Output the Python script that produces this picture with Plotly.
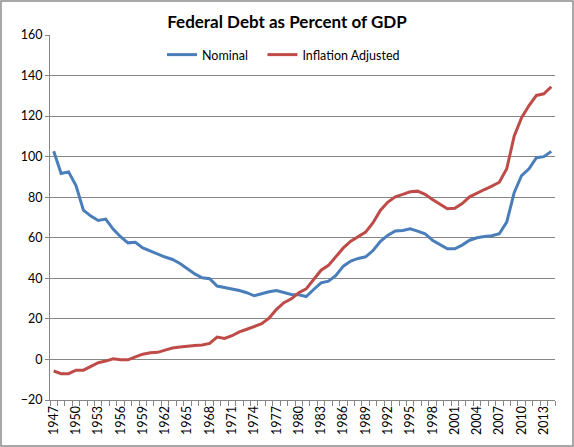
from plotly import graph_objects as go

# years on the category axis
years = list(range(1947, 2015))

# Federal debt as % of GDP
nominal = [102.7, 91.7, 92.5, 85.8, 73.6, 70.7, 68.5, 69.2, 64.3, 60.5,
           57.5, 57.8, 55.0, 53.4, 52.1, 50.5, 49.3, 47.3, 44.7, 42.2,
           40.3, 39.8, 36.2, 35.5, 34.8, 34.0, 32.9, 31.4, 32.4, 33.4,
           34.0, 33.0, 32.0, 31.9, 31.0, 34.5, 37.8, 38.6, 41.4, 46.0,
           48.5, 49.8, 50.6, 53.7, 58.3, 61.3, 63.4, 63.6, 64.4, 63.3,
           62.0, 58.8, 56.7, 54.6, 54.6, 56.4, 58.8, 60.0, 60.6, 61.0,
           62.0, 67.7, 82.2, 90.7, 94.0, 99.5, 100.0, 102.6]

inflation_adj = [-5.7, -7.0, -7.0, -5.3, -5.3, -3.6, -1.6, -0.8, 0.3, -0.2,
                 -0.2, 1.3, 2.6, 3.3, 3.5, 4.6, 5.6, 6.1, 6.6, 6.9,
                 7.1, 7.9, 11.0, 10.4, 11.7, 13.6, 14.9, 16.4, 17.6, 20.4,
                 24.7, 28.0, 29.9, 32.9, 34.8, 39.4, 44.0, 46.4, 50.6, 55.0,
                 58.3, 60.5, 62.8, 67.4, 73.6, 77.6, 80.2, 81.4, 82.7, 83.0,
                 81.4, 78.9, 76.8, 74.3, 74.6, 76.9, 80.2, 82.2, 83.8, 85.5,
                 87.4, 94.0, 110.1, 119.2, 125.2, 130.2, 131.0, 134.5]

tick_years = list(range(1947, 2015, 3))

W, H = 574, 447
L, R, T, B = 50, 19, 35, 47
FONT = "Lato"
PAD = "\u00a0" * 3  # a little extra room after the first legend entry

fig = go.Figure()
fig.add_trace(go.Scatter(x=years, y=nominal, mode="lines", name="Nominal" + PAD,
                         line=dict(color="#4A7EBB", width=3)))
fig.add_trace(go.Scatter(x=years, y=inflation_adj, mode="lines", name="Inflation Adjusted",
                         line=dict(color="#BE4B48", width=3)))

pw = W - L - R
ph = H - T - B


def px_x(v):
    return (v - L) / pw


def px_y(v):
    return (H - B - v) / ph


fig.update_layout(
    width=W, height=H,
    margin=dict(l=L, r=R, t=T, b=B, autoexpand=False),
    paper_bgcolor="white", plot_bgcolor="white",
    font=dict(family=FONT, size=12, color="black"),
    title=dict(text="<b>Federal Debt as Percent of GDP</b>", x=0.5, xanchor="center",
               y=1 - 22 / H, yanchor="middle", yref="container",
               font=dict(family=FONT, size=17, color="black")),
    legend=dict(orientation="h", x=px_x(162), xanchor="left", y=px_y(55), yanchor="middle",
                bgcolor="rgba(0,0,0,0)", font=dict(family=FONT, size=12.5),
                itemwidth=30, tracegroupgap=0),
    showlegend=True,
    shapes=[dict(type="rect", xref="paper", yref="paper",
                 x0=px_x(1), x1=px_x(W - 1), y0=px_y(H - 1), y1=px_y(1),
                 line=dict(color="#8C8C8C", width=1.5), layer="below")],
)

fig.update_xaxes(
    range=[1946.5, 2014.5], tickmode="array", tickvals=tick_years,
    ticktext=[str(y) for y in tick_years], tickangle=-90,
    ticks="", showgrid=False, zeroline=False,
    showline=True, linecolor="#868686", linewidth=1,
    tickfont=dict(family=FONT, size=12.5, color="black"),
    minor=dict(ticks="outside", ticklen=5, tickcolor="#868686", dtick=1,
               tick0=1946.5, showgrid=False),
)
fig.update_yaxes(
    range=[-20, 160], dtick=20, tick0=0,
    showgrid=True, gridcolor="#868686", gridwidth=1,
    zeroline=False, showline=True, linecolor="#868686", linewidth=1,
    ticks="outside", ticklen=4, tickcolor="#868686",
    tickfont=dict(family=FONT, size=12.5, color="black"),
)

# drop the default body margin so the chart sits at the window corner
fig.write_html("out.html", config={"displayModeBar": False},
               post_script="document.body.style.margin='0';")
